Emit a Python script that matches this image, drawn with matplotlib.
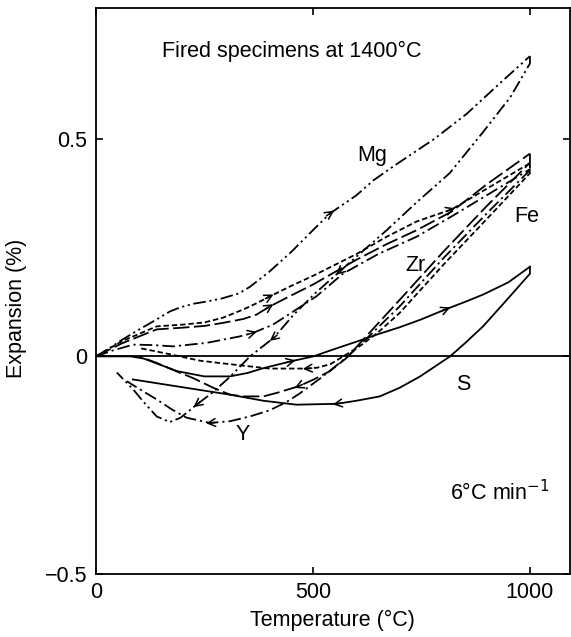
import matplotlib
matplotlib.use('Agg')
import matplotlib.pyplot as plt
import numpy as np

plt.rcParams['font.family'] = ['Liberation Sans', 'DejaVu Sans']

# Mg : heating / cooling  (temperature in degC, expansion in %)
mg_heat_T = [0, 30, 60, 100, 140, 170, 195, 225, 255, 290, 330, 355, 400, 450, 500, 540, 600, 640, 680, 720, 780, 855, 930, 1000]
mg_heat_E = [0, 0.018, 0.038, 0.062, 0.085, 0.103, 0.113, 0.121, 0.126, 0.133, 0.145, 0.16, 0.195, 0.24, 0.29, 0.329, 0.37, 0.405, 0.433, 0.46, 0.50, 0.558, 0.627, 0.69]
mg_cool_T = [1000, 1000, 955, 890, 815, 740, 670, 600, 505, 455, 410, 355, 310, 270, 232, 195, 170, 140, 110, 86, 48]
mg_cool_E = [0.69, 0.673, 0.596, 0.513, 0.421, 0.355, 0.29, 0.229, 0.145, 0.095, 0.043, 0.0, -0.046, -0.082, -0.111, -0.141, -0.151, -0.138, -0.105, -0.076, -0.037]

# Fe
fe_heat_T = [0, 60, 140, 200, 250, 293, 340, 370, 401, 450, 500, 600, 670, 739, 820, 900, 1000]
fe_heat_E = [0, 0.035, 0.069, 0.073, 0.078, 0.089, 0.108, 0.122, 0.138, 0.162, 0.185, 0.235, 0.275, 0.31, 0.338, 0.385, 0.444]
fe_cool_T = [1000, 1000, 900, 800, 700, 650, 610, 570, 540, 510, 486, 400, 309, 240, 170, 101]
fe_cool_E = [0.444, 0.421, 0.315, 0.21, 0.1, 0.055, 0.025, 0.0, -0.018, -0.026, -0.028, -0.028, -0.018, -0.01, 0.005, 0.019]

# Zr
zr_heat_T = [0, 60, 140, 200, 250, 293, 340, 370, 401, 450, 500, 600, 670, 739, 820, 900, 1000]
zr_heat_E = [0, 0.03, 0.062, 0.066, 0.07, 0.077, 0.086, 0.096, 0.115, 0.14, 0.165, 0.222, 0.258, 0.29, 0.333, 0.395, 0.466]
zr_cool_T = [1000, 1000, 900, 800, 700, 631, 577, 539, 500, 466, 420, 386, 340, 309, 270, 224, 180, 140, 100]
zr_cool_E = [0.466, 0.445, 0.345, 0.24, 0.13, 0.055, -0.004, -0.034, -0.054, -0.069, -0.083, -0.092, -0.092, -0.088, -0.072, -0.05, -0.032, -0.015, 0.0]

# Y
y_heat_T = [0, 40, 86, 130, 178, 255, 332, 362, 408, 450, 508, 569, 650, 739, 820, 900, 1000]
y_heat_E = [0, 0.014, 0.027, 0.026, 0.023, 0.031, 0.046, 0.054, 0.073, 0.1, 0.138, 0.19, 0.235, 0.275, 0.322, 0.37, 0.43]
y_cool_T = [1000, 1000, 900, 800, 700, 631, 585, 523, 470, 439, 400, 355, 309, 263, 209, 175, 140, 105, 71]
y_cool_E = [0.43, 0.428, 0.328, 0.225, 0.115, 0.048, 0.004, -0.046, -0.085, -0.105, -0.124, -0.138, -0.149, -0.153, -0.141, -0.122, -0.099, -0.078, -0.057]

# S
s_heat_T = [0, 80, 110, 150, 187, 250, 309, 350, 386, 451, 501, 550, 601, 647, 700, 747, 808, 850, 892, 950, 1000]
s_heat_E = [0, 0, -0.005, -0.02, -0.034, -0.046, -0.046, -0.038, -0.027, -0.011, 0.0, 0.017, 0.034, 0.05, 0.067, 0.084, 0.109, 0.125, 0.142, 0.17, 0.206]
s_cool_T = [1000, 1000, 954, 892, 850, 816, 747, 700, 654, 600, 555, 462, 386, 309, 200, 85]
s_cool_E = [0.206, 0.19, 0.138, 0.069, 0.03, 0.0, -0.046, -0.072, -0.092, -0.102, -0.109, -0.111, -0.102, -0.088, -0.071, -0.053]

# temperatures where the direction arrows sit
mg_heat_arrows = [541]
mg_cool_arrows = [560, 408, 232]
fe_heat_arrows = [401, 819]
fe_cool_arrows = [486]
zr_heat_arrows = [401]
zr_cool_arrows = [466]
y_heat_arrows = [362]
y_cool_arrows = [263]
s_heat_arrows = [451, 808]
s_cool_arrows = [555]

# line styles
dash_mg = (0, (7, 2, 1.2, 2, 1.2, 2))
dash_y = (0, (7, 2.2, 1.2, 2.2))
dash_fe = (0, (3, 1.6))
dash_zr = (0, (9, 2.5))

fig = plt.figure(figsize=(5.71, 6.37), dpi=100)
ax = fig.add_axes([0.168, 0.099, 0.83, 0.888])
ax.set_xlim(0, 1092)
ax.set_ylim(-0.5, 0.8)

ax.axhline(0, color='black', lw=1.3)

curves = [
    (mg_heat_T, mg_heat_E, dash_mg, mg_heat_arrows),
    (mg_cool_T, mg_cool_E, dash_mg, mg_cool_arrows),
    (fe_heat_T, fe_heat_E, dash_fe, fe_heat_arrows),
    (fe_cool_T, fe_cool_E, dash_fe, fe_cool_arrows),
    (zr_heat_T, zr_heat_E, dash_zr, zr_heat_arrows),
    (zr_cool_T, zr_cool_E, dash_zr, zr_cool_arrows),
    (y_heat_T, y_heat_E, dash_y, y_heat_arrows),
    (y_cool_T, y_cool_E, dash_y, y_cool_arrows),
    (s_heat_T, s_heat_E, '-', s_heat_arrows),
    (s_cool_T, s_cool_E, '-', s_cool_arrows),
]


def add_arrows(T, E, temps):
    pts = ax.transData.transform(np.column_stack([T, E]))
    inv = ax.transData.inverted()
    for t in temps:
        for i in range(len(T) - 1):
            if T[i] == T[i + 1]:
                continue
            if min(T[i], T[i + 1]) <= t <= max(T[i], T[i + 1]):
                f = (t - T[i]) / (T[i + 1] - T[i])
                p = pts[i] + f * (pts[i + 1] - pts[i])
                d = pts[i + 1] - pts[i]
                d = d / np.hypot(*d)
                a = inv.transform(p - 5 * d)
                b = inv.transform(p + 4 * d)
                ax.annotate('', xy=b, xytext=a,
                            arrowprops=dict(arrowstyle='->,head_length=0.55,head_width=0.28',
                                            color='black', lw=1.1, shrinkA=0, shrinkB=0))
                break


for T, E, ls, arr in curves:
    ax.plot(T, E, color='black', lw=1.3, linestyle=ls)
    add_arrows(T, E, arr)

# labels on the curves
fs = 15.5
ax.text(636, 0.462, 'Mg', fontsize=fs, ha='center', va='center')
ax.text(992, 0.321, 'Fe', fontsize=fs, ha='center', va='center')
ax.text(737, 0.21, 'Zr', fontsize=fs, ha='center', va='center')
ax.text(846, -0.065, 'S', fontsize=fs, ha='center', va='center')
ax.text(339, -0.18, 'Y', fontsize=fs, ha='center', va='center')
ax.text(152, 0.70, 'Fired specimens at 1400\u00b0C', fontsize=fs, ha='left', va='center')
ax.text(931, -0.313, '6\u00b0C min$^{-1}$', fontsize=fs, ha='center', va='center')

ax.set_xticks([0, 500, 1000])
ax.set_xticklabels(['0', '500', '1000'])
ax.set_yticks([-0.5, 0, 0.5])
ax.set_yticklabels(['\u22120.5', '0', '0.5'])
ax.tick_params(direction='in', length=5, width=1.2, labelsize=fs,
               top=True, right=True, pad=6)
for s in ax.spines.values():
    s.set_linewidth(1.3)

ax.set_xlabel('Temperature (\u00b0C)', fontsize=fs)
ax.set_ylabel('Expansion (%)', fontsize=fs)
ax.xaxis.set_label_coords(0.5, -0.063)
ax.yaxis.set_label_coords(-0.145, 0.47)

fig.savefig('out.png', dpi=100)
plt.close(fig)
